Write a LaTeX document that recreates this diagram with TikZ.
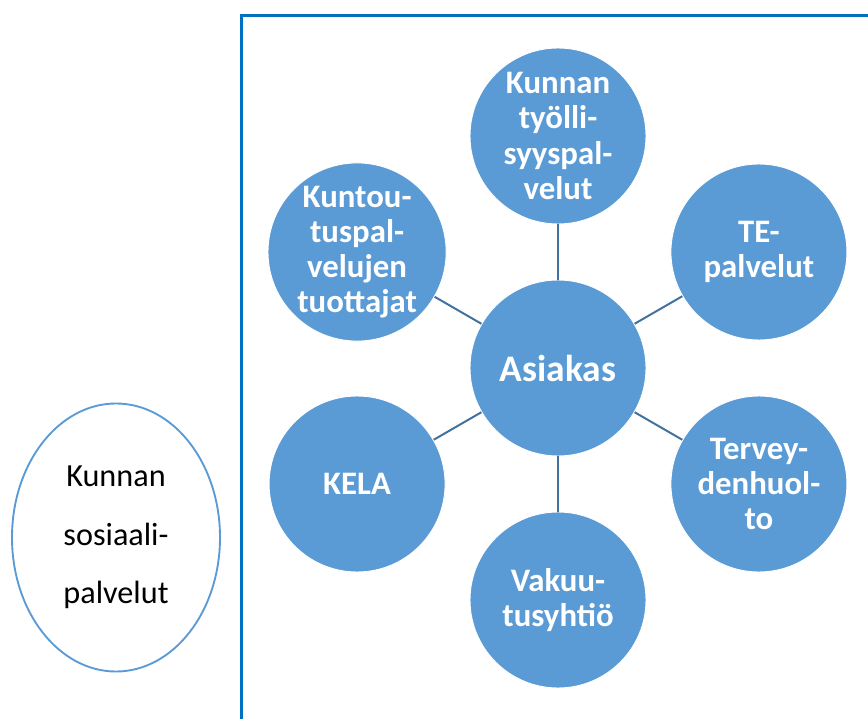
\documentclass[tikz,border=0pt]{standalone}
\usepackage{fontspec}
\setmainfont{Carlito}
\usetikzlibrary{calc, positioning, shapes.geometric}
\definecolor{circfill}{HTML}{5B9BD5}
\definecolor{spokecol}{HTML}{41719C}
\definecolor{framecol}{HTML}{0070C0}
\tikzset{
    serv_circ/.style={circle, fill=circfill, draw=white, line width=0.8pt, minimum size=5.28cm, inner sep=0pt,
        text=white, font=\fontsize{28}{30}\selectfont\bfseries, align=center},
    main_circ/.style={serv_circ, font=\fontsize{32}{36}\selectfont\bfseries},
    side_ell/.style={ellipse, draw=circfill, line width=1.6pt, minimum width=6.24cm, minimum height=8.04cm,
        inner sep=0pt, align=center, font=\fontsize{27.5}{50}\selectfont},
    spoke/.style={draw=spokecol, line width=1.7pt},
    frame_line/.style={draw=framecol, line width=3.4pt},
}
\begin{document}
\begin{tikzpicture}[x=0.03cm, y=0.03cm]
      \useasboundingbox (0,0) rectangle (868,718);
      \clip (0,0) rectangle (868,718);
      %%%%%%%%%%%
      % Frame   %
      %%%%%%%%%%%
      \draw [frame_line] (241.5,-10) -- (241.5,702.5) -- (880,702.5);

      %%%%%%%%%%%
      % Circles %
      %%%%%%%%%%%
      \node (asiakas) [main_circ] at (558,350)
          {Asiakas};
      \node (tyollisyys) [serv_circ] at ($(asiakas)+(90:232)$)
          {Kunnan\\työlli-\\syyspal-\\velut};
      \node (te) [serv_circ] at ($(asiakas)+(30:232)$)
          {TE-\\palvelut};
      \node (terveys) [serv_circ] at ($(asiakas)+(-30:232)$)
          {Tervey-\\denhuol-\\to};
      \node (vakuutus) [serv_circ] at ($(asiakas)+(-90:232)$)
          {Vakuu-\\tusyhtiö};
      \node (kela) [serv_circ] at ($(asiakas)+(-150:232)$)
          {KELA};
      \node (kuntoutus) [serv_circ] at ($(asiakas)+(150:232)$)
          {Kuntou-\\tuspal-\\velujen\\tuottajat};

      \draw [spoke] (asiakas) -- (tyollisyys);
      \draw [spoke] (asiakas) -- (te);
      \draw [spoke] (asiakas) -- (terveys);
      \draw [spoke] (asiakas) -- (vakuutus);
      \draw [spoke] (asiakas) -- (kela);
      \draw [spoke] (asiakas) -- (kuntoutus);

      %%%%%%%%%%%%
      % Sosiaali %
      %%%%%%%%%%%%
      \node (sosiaali) [side_ell] at (116,180.5)
          {Kunnan\\sosiaali-\\palvelut};
    \end{tikzpicture}
\end{document}
